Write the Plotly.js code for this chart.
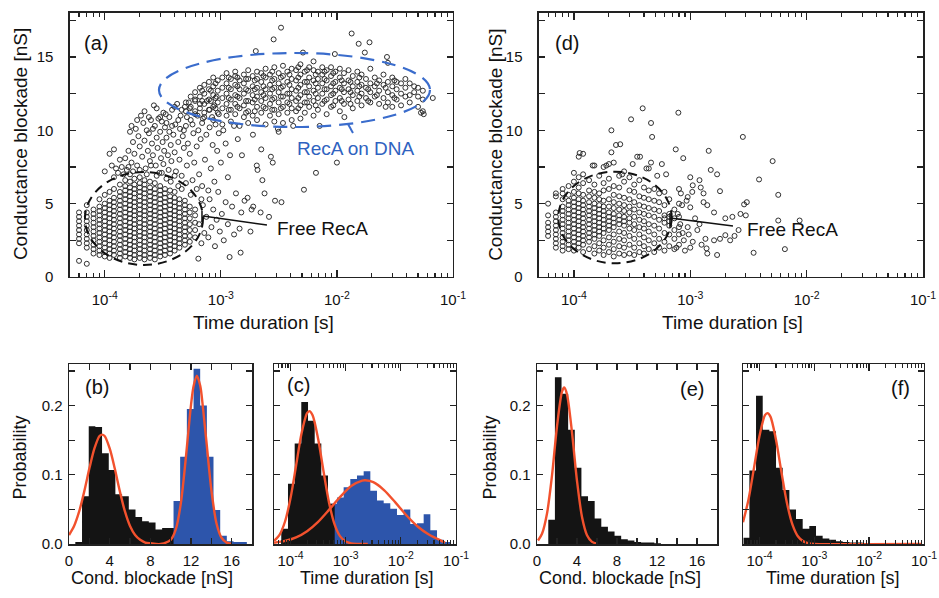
<!DOCTYPE html>
<html><head><meta charset="utf-8">
<script src="https://cdn.plot.ly/plotly-3.0.1.min.js"></script>
<style>html,body{margin:0;padding:0;background:#fff}#chart{width:939px;height:598px}</style>
</head><body><div id="chart"></div>
<script>
// ---------------- Panel (a): scatter, time [s] vs conductance blockade [nS]
// dense "Free RecA" cluster, as columns [time, [blockades...]]
const aClusterCols = [
 [6e-5,[1.1,2.3,2.6,2.9,3.2,3.5,3.8,4.1,4.4]],
 [7e-5,[0.9,2.0,2.3,2.6,2.9,3.2,3.5,3.8,4.1,4.4,4.9]],
 [8e-5,[1.6,1.9,2.2,2.5,2.8,3.1,3.4,3.7,4.0,4.3,4.6]],
 [9e-5,[1.5,1.8,2.1,2.4,2.7,3.0,3.3,3.6,3.9,4.2,4.5,4.8,5.3]],
 [1.0e-4,[1.4,1.7,2.0,2.3,2.6,2.9,3.2,3.5,3.8,4.1,4.4,4.7,5.0,5.6]],
 [1.1e-4,[1.3,1.6,1.9,2.2,2.5,2.8,3.1,3.4,3.7,4.0,4.3,4.6,4.9,5.2,5.8]],
 [1.2e-4,[1.5,1.8,2.1,2.4,2.7,3.0,3.3,3.6,3.9,4.2,4.5,4.8,5.1,5.4,6.0,6.8]],
 [1.35e-4,[1.3,1.6,1.9,2.2,2.5,2.8,3.1,3.4,3.7,4.0,4.3,4.6,4.9,5.2,5.5,5.8,6.3]],
 [1.5e-4,[1.4,1.7,2.0,2.3,2.6,2.9,3.2,3.5,3.8,4.1,4.4,4.7,5.0,5.3,5.6,5.9,6.2,6.6]],
 [1.65e-4,[1.3,1.6,1.9,2.2,2.5,2.8,3.1,3.4,3.7,4.0,4.3,4.6,4.9,5.2,5.5,5.8,6.1,6.5,7.0]],
 [1.8e-4,[1.2,1.5,1.8,2.1,2.4,2.7,3.0,3.3,3.6,3.9,4.2,4.5,4.8,5.1,5.4,5.7,6.0,6.3,6.7]],
 [2.0e-4,[1.3,1.6,1.9,2.2,2.5,2.8,3.1,3.4,3.7,4.0,4.3,4.6,4.9,5.2,5.5,5.8,6.1,6.4,6.8]],
 [2.2e-4,[1.2,1.5,1.8,2.1,2.4,2.7,3.0,3.3,3.6,3.9,4.2,4.5,4.8,5.1,5.4,5.7,6.0,6.3,6.6]],
 [2.45e-4,[1.3,1.6,1.9,2.2,2.5,2.8,3.1,3.4,3.7,4.0,4.3,4.6,4.9,5.2,5.5,5.8,6.1,6.5]],
 [2.7e-4,[1.2,1.5,1.8,2.1,2.4,2.7,3.0,3.3,3.6,3.9,4.2,4.5,4.8,5.1,5.4,5.7,6.0,6.4]],
 [3.0e-4,[1.4,1.7,2.0,2.3,2.6,2.9,3.2,3.5,3.8,4.1,4.4,4.7,5.0,5.3,5.6,5.9,6.2]],
 [3.3e-4,[1.5,1.8,2.1,2.4,2.7,3.0,3.3,3.6,3.9,4.2,4.5,4.8,5.1,5.4,5.7,6.0]],
 [3.65e-4,[1.6,1.9,2.2,2.5,2.8,3.1,3.4,3.7,4.0,4.3,4.6,4.9,5.2,5.5,5.9]],
 [4.0e-4,[1.8,2.1,2.4,2.7,3.0,3.3,3.6,3.9,4.2,4.5,4.8,5.1,5.4,5.8]],
 [4.4e-4,[2.0,2.3,2.6,2.9,3.2,3.5,3.8,4.1,4.4,4.7,5.0,5.3]],
 [4.9e-4,[2.2,2.5,2.8,3.1,3.4,3.7,4.0,4.3,4.6,4.9,5.2]],
 [5.4e-4,[2.4,2.8,3.2,3.6,4.0,4.4,4.8]],
 [6.0e-4,[2.7,3.2,3.7,4.2,4.6]]
];
// "RecA on DNA" upper cluster, as columns
const aUpperCols = [
 [5.0e-4,[11.3,11.9]],[5.5e-4,[11.6,12.3]],[6.0e-4,[11.1,12.0,12.6]],[6.6e-4,[11.5,12.3,12.9]],
 [7.2e-4,[10.9,11.8,12.5,13.1]],[7.9e-4,[11.4,12.1,12.8,13.3]],[8.6e-4,[10.7,11.6,12.4,13.0,13.6]],
 [9.4e-4,[11.2,11.9,12.7,13.4]],[1.03e-3,[10.4,11.5,12.2,12.9,13.6]],[1.12e-3,[11.0,11.8,12.5,13.2,13.9]],
 [1.22e-3,[10.6,11.4,12.1,12.8,13.5]],[1.33e-3,[11.1,11.8,12.4,13.1,13.7,14.0]],[1.45e-3,[10.3,11.5,12.2,12.8,13.4]],
 [1.58e-3,[10.9,11.7,12.5,13.2,13.8]],[1.72e-3,[10.5,11.3,12.0,12.7,13.5,14.1]],[1.88e-3,[11.0,11.9,12.4,13.0,13.7]],
 [2.05e-3,[10.7,11.6,12.3,12.9,13.5,14.0]],[2.23e-3,[11.2,12.0,12.6,13.3,13.9]],[2.43e-3,[10.4,11.5,12.2,12.8,13.6,14.2]],
 [2.65e-3,[11.0,11.8,12.5,13.1,13.8]],[2.89e-3,[10.6,11.4,12.2,12.9,13.5,14.3]],[3.15e-3,[9.9,11.1,11.9,12.6,13.2,13.9]],
 [3.43e-3,[10.5,11.6,12.3,13.0,13.7,14.4]],[3.74e-3,[11.2,11.9,12.5,13.3,14.0]],[4.08e-3,[10.7,11.5,12.2,12.8,13.5,14.2]],
 [4.45e-3,[11.3,12.0,12.7,13.4,14.1]],[4.85e-3,[10.8,11.7,12.4,13.1,13.8,14.5]],[5.29e-3,[11.2,11.9,12.6,13.3,14.0]],
 [5.77e-3,[11.6,12.3,13.0,13.6,14.3]],[6.29e-3,[11.0,12.0,12.7,13.4,14.1,14.7]],[6.86e-3,[11.4,12.2,12.9,13.5,14.0]],
 [7.48e-3,[11.8,12.5,13.2,13.8,14.3]],[8.16e-3,[11.1,12.1,12.8,13.4,14.1]],[8.9e-3,[11.6,12.4,13.0,13.7,14.3]],
 [9.7e-3,[12.0,12.7,13.3,14.0]],[1.06e-2,[11.3,12.2,12.9,13.6,14.2]],[1.15e-2,[11.8,12.6,13.2,13.9]],
 [1.26e-2,[12.1,12.8,13.4,14.1]],[1.37e-2,[11.5,12.4,13.0,13.7]],[1.5e-2,[12.0,12.7,13.3,14.0]],
 [1.63e-2,[11.7,12.5,13.1,13.8]],[1.78e-2,[12.2,12.9,13.5]],[1.94e-2,[11.9,12.6,13.2,14.2]],
 [2.12e-2,[12.3,13.0,13.6]],[2.31e-2,[11.8,12.7,13.4]],[2.52e-2,[12.2,13.1,13.8]],
 [2.75e-2,[11.9,12.6,13.3,14.6]],[3.0e-2,[11.6,12.4,13.0,13.6]],[3.27e-2,[12.1,12.8,13.3]],
 [3.57e-2,[11.7,12.5,13.2]],[3.89e-2,[12.3,12.9,13.5]],[4.24e-2,[11.9,12.4,13.2]],
 [4.63e-2,[12.6,13.0]],[5.0e-2,[11.6,12.3,12.9]],[5.5e-2,[11.3,12.1,12.7]],
 [6.9e-4,[12.0,12.7]],[8.2e-4,[12.0,12.7]],[9.0e-4,[11.5,12.2,13.2]],[1.17e-3,[11.4,12.2,12.9,13.6]],
 [1.39e-3,[11.6,12.3,13.0,13.6]],[1.65e-3,[11.2,12.0,12.8,13.5]],[1.96e-3,[11.3,12.1,12.8,13.4]],
 [2.33e-3,[11.6,12.4,13.0,13.7]],[2.77e-3,[11.4,12.1,12.8,13.4,14.0]],[3.29e-3,[11.5,12.3,12.9,13.6]],
 [3.9e-3,[11.8,12.5,13.1,13.8]],[4.65e-3,[11.5,12.2,12.9,13.6,14.3]],[5.53e-3,[11.9,12.6,13.3,14.1]],
 [6.57e-3,[11.7,12.5,13.2,13.8]],[7.82e-3,[12.0,12.8,13.5,14.0]],[9.3e-3,[11.7,12.5,13.2,13.9]],
 [1.1e-2,[12.0,12.8,13.4]],[1.31e-2,[11.8,12.6,13.3]],[1.56e-2,[12.3,13.0,13.6]],[1.86e-2,[12.0,12.8]],
 [2.21e-2,[12.4,13.2]],[2.63e-2,[11.6,12.9]],[3.13e-2,[12.2,13.4]]
];
// transition band, cluster edge, tail and outliers [time, blockade]
const aScatterExtra = [
 [1.0e-4,7.2],[1.1e-4,8.4],[1.2e-4,8.7],[1.15e-4,7.6],[1.3e-4,7.1],[1.35e-4,8.0],[1.4e-4,7.5],[1.5e-4,8.1],
 [1.55e-4,7.3],[1.6e-4,8.6],[1.7e-4,7.8],[1.75e-4,9.2],[1.8e-4,8.4],[1.85e-4,10.1],[1.9e-4,7.6],[1.95e-4,9.6],
 [2.0e-4,8.9],[2.05e-4,11.0],[2.1e-4,8.2],[2.15e-4,10.5],[2.2e-4,9.3],[2.25e-4,7.4],[2.3e-4,10.0],[2.35e-4,8.6],
 [2.4e-4,9.8],[2.45e-4,7.9],[2.5e-4,10.7],[2.55e-4,9.1],[2.6e-4,8.3],[2.65e-4,11.7],[2.7e-4,10.3],[2.75e-4,7.6],
 [2.8e-4,9.5],[2.85e-4,8.8],[2.9e-4,10.8],[2.95e-4,7.1],[3.0e-4,9.9],[3.05e-4,8.1],[3.1e-4,10.6],[3.15e-4,9.2],
 [3.2e-4,7.7],[3.25e-4,8.6],[3.3e-4,10.2],[3.35e-4,11.1],[3.4e-4,9.5],[3.5e-4,8.3],[3.55e-4,7.3],[3.6e-4,10.9],
 [3.7e-4,9.0],[3.75e-4,7.9],[3.8e-4,11.4],[3.9e-4,9.7],[4.0e-4,8.5],[4.05e-4,10.4],[4.1e-4,7.2],[4.2e-4,11.8],
 [4.3e-4,9.2],[4.4e-4,8.0],[4.45e-4,10.1],[4.5e-4,11.0],[4.6e-4,6.9],[4.7e-4,9.6],[4.8e-4,8.8],[4.9e-4,11.6],
 [5.0e-4,10.3],[5.1e-4,7.6],[5.2e-4,9.1],[5.3e-4,11.9],[5.4e-4,8.4],[5.5e-4,10.7],[5.7e-4,6.6],[5.8e-4,9.8],
 [5.9e-4,7.8],[6.0e-4,11.3],[6.2e-4,8.9],[6.4e-4,10.0],[6.5e-4,7.0],[6.7e-4,9.4],[6.9e-4,6.2],[7.0e-4,10.8],
 [7.3e-4,8.0],[7.5e-4,9.7],[7.8e-4,5.9],[8.0e-4,10.2],[8.2e-4,7.4],[8.5e-4,9.0],[8.8e-4,6.5],[9.0e-4,10.4],
 [9.3e-4,8.6],[9.6e-4,9.8],[1.0e-3,7.8],[1.05e-3,10.0],[1.1e-3,9.1],[1.15e-3,6.8],[1.2e-3,8.3],[1.3e-3,10.3],[1.4e-3,9.4],
 [1.65e-4,9.9],[1.7e-4,10.3],[1.9e-4,10.7],[2.2e-4,11.3],[2.4e-4,10.9],[2.6e-4,10.1],[2.8e-4,11.5],[3.0e-4,10.9],
 [3.2e-4,11.2],[3.4e-4,10.5],[3.6e-4,9.9],[3.8e-4,10.3],[4.0e-4,11.6],[4.3e-4,10.7],[4.6e-4,11.4],[4.8e-4,10.0],
 [5.1e-4,10.9],[5.4e-4,11.5],[5.7e-4,10.4],[6.0e-4,12.1],[6.3e-4,11.0],[6.6e-4,11.8],[6.9e-4,10.5],[7.2e-4,11.2],
 [7.6e-4,12.0],[8.0e-4,11.4],[8.4e-4,10.9],[8.8e-4,11.7],[9.2e-4,12.3],[9.6e-4,11.1],
 [1.25e-4,7.4],[1.45e-4,7.0],[1.6e-4,7.5],[1.75e-4,7.2],[2.0e-4,7.3],[2.3e-4,7.0],[2.5e-4,7.6],[2.8e-4,6.9],
 [3.1e-4,7.1],[3.4e-4,6.7],[3.7e-4,6.5],[4.0e-4,6.9],[4.3e-4,6.2],[4.6e-4,6.0],[5.0e-4,6.4],[5.5e-4,5.6],[6.2e-4,6.0],[6.8e-4,5.3],
 [6.5e-4,3.6],[6.8e-4,2.3],[7.0e-4,4.9],[7.2e-4,3.0],[7.5e-4,4.1],[7.8e-4,2.7],[8.0e-4,5.3],[8.3e-4,3.4],
 [8.6e-4,4.6],[8.9e-4,2.1],[9.2e-4,3.9],[9.5e-4,5.8],[9.8e-4,3.1],[1.02e-3,4.3],[1.06e-3,2.5],[1.1e-3,5.1],
 [1.15e-3,3.6],[1.19e-3,1.36],[1.25e-3,4.8],[1.3e-3,2.9],[1.35e-3,5.7],[1.45e-3,3.3],[1.5e-3,4.4],[1.48e-3,1.66],
 [1.6e-3,5.2],[1.7e-3,5.4],[1.8e-3,3.1],[1.9e-3,4.8],[1.84e-3,4.6],[2.2e-3,4.4],[2.38e-3,5.7],[2.6e-3,4.1],
 [2.93e-3,5.2],[3.33e-3,5.1],[6.4e-4,1.25],
 [3.3e-3,17.0],[2.85e-3,16.2],[2.0e-3,15.4],[1.34e-2,16.6],[1.54e-2,15.9],[1.91e-2,16.0],[1.74e-2,15.3],
 [5.1e-3,15.3],[9.6e-3,15.2],[2.7e-2,15.0],[6.7e-2,12.2],[5.2e-3,5.95],[6.6e-3,7.1],[1.0e-2,7.8],[7.1e-3,10.3],
 [1.16e-2,10.9],[2.7e-3,8.2],[2.8e-3,7.8],[2.23e-3,8.7],[2.04e-3,7.6],[2.07e-3,7.3],[1.52e-3,8.3],[1.89e-3,9.7],
 [2.28e-3,6.6],[5.3e-2,11.2],[5.6e-2,11.1],[3.1e-3,10.1],[4.2e-3,10.3]
];

// ---------------- Panel (d): scatter
const dClusterCols = [
 [6e-5,[2.8,3.1,3.4,3.7,4.2,5.0]],
 [7e-5,[2.0,2.3,2.6,2.9,3.2,3.5,3.8,4.1,4.4,5.5,5.7]],
 [8e-5,[1.8,2.1,2.4,2.7,3.0,3.3,3.6,3.9,4.2,4.5,4.8,5.3,5.7,6.0]],
 [9e-5,[1.9,2.2,2.5,2.8,3.1,3.4,3.7,4.0,4.3,4.6,4.9,5.2,5.6,6.2]],
 [1.0e-4,[1.8,2.1,2.4,2.7,3.0,3.3,3.6,3.9,4.2,4.5,4.8,5.1,5.4,5.8,6.5,7.1]],
 [1.1e-4,[2.0,2.3,2.6,2.9,3.2,3.5,3.8,4.1,4.4,4.7,5.0,5.3,5.7,6.1,6.8,8.2]],
 [1.2e-4,[1.7,2.2,2.5,2.8,3.1,3.4,3.7,4.0,4.3,4.6,4.9,5.2,5.6,6.4,7.0,8.4]],
 [1.35e-4,[1.9,2.4,2.7,3.0,3.3,3.6,3.9,4.2,4.5,4.8,5.1,5.5,5.9,6.6]],
 [1.5e-4,[1.6,2.1,2.6,2.9,3.2,3.5,3.8,4.1,4.4,4.7,5.0,5.4,5.8,6.3,7.6]],
 [1.65e-4,[1.8,2.3,2.8,3.1,3.4,3.7,4.0,4.3,4.6,4.9,5.3,5.7,6.9]],
 [1.8e-4,[1.5,2.0,2.5,3.0,3.3,3.6,3.9,4.2,4.5,4.8,5.2,5.9,6.4,7.5]],
 [2.0e-4,[1.7,2.2,2.7,3.2,3.5,3.8,4.1,4.4,4.8,5.3,6.0,6.7,7.7]],
 [2.2e-4,[1.4,1.9,2.4,2.9,3.4,3.7,4.0,4.3,4.7,5.1,5.6,6.2,7.8]],
 [2.45e-4,[1.6,2.1,2.6,3.1,3.6,3.9,4.2,4.6,5.0,5.5,6.1,6.9]],
 [2.7e-4,[1.5,2.0,2.5,3.0,3.5,3.8,4.1,4.5,4.9,5.4,6.5,7.2]],
 [3.0e-4,[1.6,2.2,2.8,3.3,3.7,4.0,4.4,4.8,5.3,5.9,6.8]],
 [3.3e-4,[1.5,2.0,2.6,3.2,3.6,4.1,4.6,5.1,5.8,6.3]],
 [3.65e-4,[1.7,2.3,2.9,3.4,3.9,4.4,4.9,5.5,6.6]],
 [4.0e-4,[1.6,2.1,2.7,3.3,3.8,4.3,4.8,5.4,6.1]],
 [4.4e-4,[1.9,2.5,3.1,3.6,4.2,4.7,5.3,5.9,7.4]],
 [4.9e-4,[1.7,2.3,2.9,3.5,4.1,4.6,5.2,6.0]],
 [5.4e-4,[2.0,2.6,3.3,3.9,4.5,5.1,5.7]],
 [6.0e-4,[1.8,2.4,3.0,3.7,4.0,4.2,4.9,5.8]],
 [6.6e-4,[2.1,2.9,3.5,3.8,4.1,4.3,5.3]],
 [7.3e-4,[1.9,2.6,3.2,4.0,4.6]],
 [8.0e-4,[2.2,2.9,3.4,4.1,5.0]]
];
const dScatterExtra = [
 [3.9e-4,11.5],[7.9e-4,11.2],[3.1e-4,10.75],[4.6e-4,10.5],[4.7e-4,9.55],[2.1e-4,10.0],[2.5e-4,9.05],[2.83e-3,9.55],
 [5.1e-3,7.9],[3.9e-3,6.65],[5.7e-3,5.6],[5.7e-3,3.85],[6.5e-3,1.9],[8.7e-3,3.85],[3.5e-3,1.65],[3.06e-3,5.1],
 [2.9e-3,4.95],[1.44e-3,8.6],[8.7e-4,8.1],[7.5e-4,8.7],[5.7e-4,7.7],[4.6e-4,7.8],[3.7e-4,8.2],[3.5e-4,8.2],
 [2.1e-4,8.5],[1.12e-4,8.45],[1.0e-3,6.8],[1.05e-3,6.25],[1.04e-3,5.8],[1.2e-3,6.6],[1.23e-3,6.1],[1.3e-3,5.7],
 [1.5e-3,7.3],[1.7e-3,7.0],[1.8e-3,5.85],[1.6e-3,4.4],[2.0e-3,4.0],[2.3e-3,4.1],[2.7e-3,4.3],[3.0e-3,4.2],
 [2.6e-3,3.2],[2.2e-3,2.5],[1.7e-3,1.5],[2.0e-3,2.85],[1.35e-3,2.6],[1.38e-3,1.95],[1.4e-3,1.6],[1.15e-3,3.2],
 [1.2e-3,3.6],[1.1e-3,4.0],[9.5e-4,3.4],[9.7e-4,2.9],[8.8e-4,2.5],[1.0e-3,2.0],[1.4e-3,4.9],[1.3e-3,5.1],
 [1.0e-3,4.75],[9.3e-4,5.2],[9.5e-4,5.45],[2.3e-4,9.0],[1.45e-4,7.6],[1.9e-4,7.6],[2.6e-4,7.0],[3.2e-4,7.7],
 [4.2e-4,7.4],[5.2e-4,6.9],[6.2e-4,7.0],[8.0e-4,6.0],[8.3e-4,5.7],[8.5e-4,4.9],[7.8e-4,4.3],[8.2e-4,3.6],
 [8.6e-4,3.0],[7.6e-4,2.0],[9.0e-4,1.8],[1.6e-3,2.5],[1.25e-3,2.2],[1.05e-3,2.4],[1.8e-3,2.6],[2.4e-3,2.8]
];

// ---------------- Panel (b): blockade histograms [nS] (bin edges, probabilities)
const bFreeEdges = [0.62,1.28,1.94,2.59,3.25,3.91,4.56,5.22,5.88,6.54,7.19,7.85,8.51,9.16,9.82,10.47];
const bFreeProb  = [0.003,0.069,0.170,0.169,0.131,0.107,0.072,0.069,0.050,0.039,0.033,0.031,0.021,0.023,0.023];
const bDnaEdges  = [10.28,10.93,11.59,12.25,12.90,13.56,14.21,14.87,15.52,16.18,16.83,17.49];
const bDnaProb   = [0.062,0.126,0.195,0.253,0.200,0.126,0.049,0.012,0.004,0.003,0.003];
const bFitX = [0,0.5,1,1.5,2,2.5,3,3.25,3.5,4,4.5,5,5.5,6,6.5,7,7.5,8,9,10,10.5,11,11.5,12,12.25,12.58,12.9,13.0,13.5,14,14.5,15,15.5,16];
const bFitY = [0.013,0.026,0.047,0.076,0.109,0.138,0.156,0.158,0.156,0.138,0.109,0.076,0.047,0.026,0.013,0.006,0.002,0.001,0,0.006,0.021,0.059,0.126,0.201,0.228,0.243,0.229,0.220,0.150,0.078,0.030,0.009,0.002,0];

// ---------------- Panel (c): duration histograms [s]
const cFreeEdges = [6.79e-5,8.99e-5,1.189e-4,1.567e-4,2.075e-4,2.742e-4,3.614e-4,4.775e-4,6.32e-4];
const cFreeProb  = [0.022,0.087,0.145,0.205,0.178,0.145,0.099,0.058];
const cDnaEdges  = [1.730e-4,2.286e-4,3.020e-4,3.990e-4,5.260e-4,6.950e-4,9.183e-4,1.213e-3,1.603e-3,2.118e-3,2.799e-3,3.698e-3,4.887e-3,6.442e-3,8.511e-3,1.125e-2,1.486e-2,1.963e-2,2.594e-2,3.428e-2,4.529e-2,5.984e-2,7.889e-2];
const cDnaProb   = [0.003,0.006,0.015,0.039,0.058,0.067,0.082,0.094,0.099,0.105,0.077,0.063,0.059,0.051,0.042,0.050,0.029,0.030,0.043,0.020,0.006,0.003];
const cFitFreeX = [5.012e-5,6.310e-5,7.943e-5,1e-4,1.259e-4,1.585e-4,1.995e-4,2.193e-4,2.512e-4,3.162e-4,3.981e-4,5.012e-4,6.310e-4,7.943e-4,1e-3,1.259e-3,1.585e-3,2.512e-3];
const cFitFreeY = [0.0045,0.0133,0.0325,0.0664,0.113,0.160,0.189,0.192,0.186,0.152,0.104,0.059,0.028,0.011,0.0036,0.001,0.0002,0];
const cFitDnaX  = [5.012e-5,7.943e-5,1.259e-4,1.995e-4,3.162e-4,5.012e-4,7.943e-4,1.259e-3,1.995e-3,2.270e-3,3.162e-3,5.012e-3,7.943e-3,1.259e-2,1.995e-2,3.162e-2,5.012e-2,6.310e-2];
const cFitDnaY  = [0.0018,0.0044,0.0095,0.0185,0.032,0.0496,0.068,0.0837,0.0916,0.092,0.0893,0.0776,0.0601,0.0415,0.0256,0.014,0.006,0.002];

// ---------------- Panel (e): blockade histogram, RecA only
const eEdges = [1.127,1.789,2.452,3.114,3.777,4.440,5.102,5.765,6.428,7.091,7.753,8.416,9.079,9.741,10.404,11.067,11.730,12.393];
const eProb  = [0.035,0.241,0.217,0.165,0.110,0.069,0.062,0.037,0.025,0.018,0.012,0.007,0.005,0.003,0.002,0.002,0.001];
const eFitX = [0.1,0.5,1,1.5,2,2.5,2.72,3,3.5,4,4.5,5,5.5,6];
const eFitY = [0.005,0.0147,0.044,0.099,0.170,0.220,0.226,0.216,0.161,0.091,0.039,0.0127,0.0031,0.0006];

// ---------------- Panel (f): duration histogram, RecA only
const fEdges = [5.13e-5,6.54e-5,8.65e-5,1.146e-4,1.514e-4,2.004e-4,2.649e-4,3.508e-4,4.634e-4,6.138e-4,8.110e-4,1.074e-3,1.419e-3,1.879e-3,2.486e-3,3.289e-3,4.355e-3,5.754e-3,7.621e-3,1.007e-2,1.334e-2];
const fProb  = [0.009,0.106,0.214,0.165,0.163,0.110,0.078,0.050,0.036,0.022,0.026,0.012,0.008,0.006,0.004,0.003,0.002,0.002,0.001,0.001];
const fFitX = [5.012e-5,6.310e-5,7.943e-5,1e-4,1.259e-4,1.393e-4,1.585e-4,1.995e-4,2.512e-4,3.162e-4,3.981e-4,5.012e-4,6.310e-4,7.943e-4,1e-3,9e-2];
const fFitY = [0.0314,0.0643,0.110,0.156,0.186,0.189,0.184,0.151,0.104,0.0596,0.0284,0.0113,0.0038,0.001,0.0002,0];

// tick labels
const decadeVals = [1e-4,1e-3,1e-2,1e-1];
const decadeText = ['10<sup>-4</sup>','10<sup>-3</sup>','10<sup>-2</sup>','10<sup>-1</sup>'];
const condVals = [0,5,10,15];
const condText = ['0','5','10','15'];
const condMinor = [2.5,7.5,12.5,17.5];
const probVals = [0,0.1,0.2];
const probText = ['0.0','0.1','0.2'];
const probMinor = [0.05,0.15,0.25];
const nsVals = [0,4,8,12,16];
const nsText = ['0','4','8','12','16'];
const nsMinor = [2,6,10,14];

// ---------------- build
function pts(cols, extra){
  const x=[], y=[];
  cols.forEach(c => c[1].forEach(g => { x.push(c[0]); y.push(g); }));
  extra.forEach(p => { x.push(p[0]); y.push(p[1]); });
  return {x, y};
}
function stepHist(edges, probs, xa, ya, color){
  return {type:'scatter', mode:'lines', x:edges, y:probs.concat([probs[probs.length-1]]),
    line:{shape:'hv', width:0, color:color}, fill:'tozeroy', fillcolor:color,
    xaxis:xa, yaxis:ya, hoverinfo:'skip'};
}
function fit(x, y, xa, ya){
  return {type:'scatter', mode:'lines', x:x, y:y, line:{color:'#f2512d', width:2.4, shape:'spline', smoothing:0.8},
    xaxis:xa, yaxis:ya, hoverinfo:'skip'};
}
const A = pts(aClusterCols.concat(aUpperCols), aScatterExtra);
const D = pts(dClusterCols, dScatterExtra);
const mk = {symbol:'circle-open', size:5, color:'#262626', line:{width:0.95}};

const BLACK = '#141414', BLUE = '#2d55ab';
const traces = [
  {type:'scatter', mode:'markers', x:A.x, y:A.y, marker:mk, xaxis:'x', yaxis:'y', hoverinfo:'skip'},
  {type:'scatter', mode:'markers', x:D.x, y:D.y, marker:mk, xaxis:'x2', yaxis:'y2', hoverinfo:'skip'},
  stepHist(bFreeEdges, bFreeProb, 'x3','y3', BLACK),
  stepHist(bDnaEdges, bDnaProb, 'x3','y3', BLUE),
  fit(bFitX, bFitY, 'x3','y3'),
  stepHist(cDnaEdges, cDnaProb, 'x4','y4', BLUE),
  stepHist(cFreeEdges, cFreeProb, 'x4','y4', BLACK),
  fit(cFitFreeX, cFitFreeY, 'x4','y4'),
  fit(cFitDnaX, cFitDnaY, 'x4','y4'),
  stepHist(eEdges, eProb, 'x5','y5', BLACK),
  fit(eFitX, eFitY, 'x5','y5'),
  stepHist(fEdges, fProb, 'x6','y6', BLACK),
  fit(fFitX, fFitY, 'x6','y6')
];

const FONT = 'Liberation Sans, Arial, Helvetica, sans-serif';
const logMinor = [];
[1e-5,1e-4,1e-3,1e-2].forEach(d => { for (let m=2;m<=9;m++){ const v=m*d; if (v>5.02e-5 && v<0.1) logMinor.push(v); } });

function ax(extra){
  return Object.assign({showline:true, linecolor:'#222', linewidth:1.5, mirror:'ticks',
    ticks:'inside', ticklen:6, tickwidth:1.3, tickcolor:'#222', showgrid:false, zeroline:false,
    tickfont:{family:FONT, size:15, color:'#111'}, fixedrange:true, tickmode:'array'}, extra);
}
function linMinor(vals){
  return {ticks:'inside', ticklen:6, tickwidth:1.3, tickcolor:'#222', tickmode:'array', tickvals:vals, showgrid:false};
}
function logX(domain, anchor, sz){
  return ax({type:'log', range:[-4.3,-1], domain:domain, anchor:anchor, tickvals:decadeVals, ticktext:decadeText,
    ticklen:7, ticklabelstandoff:sz,
    minor:{ticks:'inside', ticklen:4, tickwidth:1.1, tickcolor:'#222', tickmode:'array', tickvals:logMinor, showgrid:false}});
}
const topDom = [0.5368, 0.9783], botDom = [0.0903, 0.3913];

const layout = {
  width:939, height:598, margin:{l:0,r:0,t:0,b:0}, showlegend:false,
  paper_bgcolor:'#fff', plot_bgcolor:'#fff', font:{family:FONT, color:'#111'},
  xaxis: logX([0.0745,0.4824],'y',9),
  yaxis: ax({range:[0,18], domain:topDom, anchor:'x', tickvals:condVals, ticktext:condText, minor:linMinor(condMinor), ticklabelstandoff:12}),
  xaxis2: logX([0.574,0.983],'y2',9),
  yaxis2: ax({range:[0,18], domain:topDom, anchor:'x2', tickvals:condVals, ticktext:condText, minor:linMinor(condMinor), ticklabelstandoff:12}),
  xaxis3: ax({range:[0,18], domain:[0.0735,0.2684], anchor:'y3', tickvals:nsVals, ticktext:nsText, minor:linMinor(nsMinor), ticklabelstandoff:2}),
  yaxis3: ax({range:[0,0.26], domain:botDom, anchor:'x3', tickvals:probVals, ticktext:probText, minor:linMinor(probMinor), ticklabelstandoff:2}),
  xaxis4: logX([0.2918,0.4856],'y4',2),
  yaxis4: ax({range:[0,0.26], domain:botDom, anchor:'x4', tickvals:probVals, minor:linMinor(probMinor), showticklabels:false}),
  xaxis5: ax({range:[0,18], domain:[0.5719,0.7636], anchor:'y5', tickvals:nsVals, ticktext:nsText, minor:linMinor(nsMinor), ticklabelstandoff:2}),
  yaxis5: ax({range:[0,0.26], domain:botDom, anchor:'x5', tickvals:probVals, ticktext:probText, minor:linMinor(probMinor), ticklabelstandoff:2}),
  xaxis6: logX([0.7913,0.984],'y6',2),
  yaxis6: ax({range:[0,0.26], domain:botDom, anchor:'x6', tickvals:probVals, minor:linMinor(probMinor), showticklabels:false}),
  shapes: [
    {type:'circle', xref:'paper', yref:'paper', x0:0.0905, x1:0.2162, y0:0.5569, y1:0.7124, line:{color:'#111', width:2, dash:'9px,6px'}},
    {type:'circle', xref:'paper', yref:'paper', x0:0.1693, x1:0.4579, y0:0.7876, y1:0.9114, line:{color:'#3a6ccc', width:2.2, dash:'14px,8px'}},
    {type:'line', xref:'paper', yref:'paper', x0:0.2162, y0:0.6388, x1:0.2843, y1:0.6237, line:{color:'#111', width:1.5}},
    {type:'line', xref:'paper', yref:'paper', x0:0.2151, y0:0.6472, x1:0.2151, y1:0.6288, line:{color:'#111', width:1.5}},
    {type:'line', xref:'paper', yref:'paper', x0:0.3706, y0:0.7926, x1:0.3759, y1:0.7776, line:{color:'#3a6ccc', width:2}},
    {type:'circle', xref:'paper', yref:'paper', x0:0.5946, x1:0.7153, y0:0.5597, y1:0.7129, line:{color:'#111', width:2, dash:'9px,6px'}},
    {type:'line', xref:'paper', yref:'paper', x0:0.7135, y0:0.6355, x1:0.7806, y1:0.6221, line:{color:'#111', width:1.5}},
    {type:'line', xref:'paper', yref:'paper', x0:0.7135, y0:0.6438, x1:0.7135, y1:0.6187, line:{color:'#111', width:1.5}}
  ],
  annotations: [
    {text:'(a)', x:0.1022, y:0.9281},
    {text:'(d)', x:0.6038, y:0.9281},
    {text:'(b)', x:0.1033, y:0.3528},
    {text:'(c)', x:0.3174, y:0.3562},
    {text:'(e)', x:0.737, y:0.3495},
    {text:'(f)', x:0.9595, y:0.3512},
    {text:'Free RecA', x:0.2929, y:0.6171, xanchor:'left', size:19},
    {text:'Free RecA', x:0.7934, y:0.6154, xanchor:'left', size:19},
    {text:'RecA on DNA', x:0.3142, y:0.7525, xanchor:'left', size:19, color:'#2f62c0'},
    {text:'Conductance blockade [nS]', x:0.0213, y:0.759, angle:-90, size:19},
    {text:'Time duration [s]', x:0.2801, y:0.4599, size:19},
    {text:'Conductance blockade [nS]', x:0.527, y:0.7575, angle:-90, size:19},
    {text:'Time duration [s]', x:0.7796, y:0.4599, size:19},
    {text:'Probability', x:0.0213, y:0.235, angle:-90, size:18},
    {text:'Cond. blockade [nS]', x:0.162, y:0.0334, size:18},
    {text:'Time duration [s]', x:0.3898, y:0.0334, size:18},
    {text:'Probability', x:0.5218, y:0.235, angle:-90, size:18},
    {text:'Cond. blockade [nS]', x:0.660, y:0.0334, size:18},
    {text:'Time duration [s]', x:0.887, y:0.0334, size:18}
  ].map(a => ({text:a.text, x:a.x, y:a.y, xref:'paper', yref:'paper', showarrow:false,
      xanchor:a.xanchor||'center', yanchor:'middle', textangle:a.angle||0,
      font:{family:FONT, size:a.size||20, color:a.color||'#111'}}))
};

Plotly.newPlot('chart', traces, layout, {staticPlot:true, displayModeBar:false});
</script></body></html>
